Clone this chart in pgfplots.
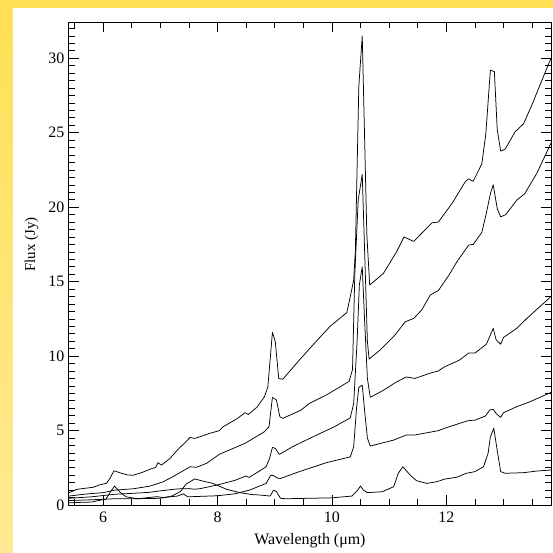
\documentclass[border=0pt]{standalone}
\usepackage{pgfplots}
\pgfplotsset{compat=1.18}
\usepackage{fontspec}
\setmainfont{Liberation Serif}
\definecolor{ytop}{HTML}{FFE055}
\definecolor{ybot}{HTML}{FFEA94}
\tikzset{sp/.style={black, mark=none, line width=0.75pt, line join=round}}
\begin{document}
\begin{tikzpicture}[x=1bp,y=1bp]
\fill[white] (0,0) rectangle (553,553);
\fill[ytop] (0,545) rectangle (553,553);
\shade[top color=ytop, bottom color=ybot] (0,0) rectangle (12.5,545);
\useasboundingbox (0,0) rectangle (553,553);
\begin{axis}[
  at={(68.8bp,48bp)}, anchor=south west,
  scale only axis, width=482.2bp, height=482.5bp,
  xmin=5.4, xmax=13.83, ymin=0, ymax=32.4,
  xtick={6,8,10,12}, minor xtick={5.5,6.5,7,7.5,8.5,9,9.5,10.5,11,11.5,12.5,13,13.5},
  ytick={0,5,...,30}, minor ytick={0.5,1,...,32},
  tick align=inside, tick pos=both,
  major tick length=10bp, minor tick length=6bp,
  every tick/.style={black, line width=0.6pt},
  axis line style={line width=0.8pt},
  /pgf/number format/assume math mode=true,
  tick label style={font=\fontsize{16}{18}\selectfont},
  xticklabel style={yshift=-3bp},
  yticklabel style={xshift=-1bp},
  xlabel={Wavelength (μm)},
  ylabel={Flux (Jy)},
  xlabel style={font=\fontsize{16}{18}\selectfont, at={(axis description cs:0.5,-0.073)}, anchor=center},
  ylabel style={font=\fontsize{15}{18}\selectfont, at={(axis description cs:-0.077,0.54)}, anchor=center},
  clip=true,
]
% A
\addplot[sp] coordinates {(5.4,0.82)(5.54,1.05)(5.68,1.12)(5.83,1.19)(5.93,1.34)(6.06,1.46)(6.12,1.79)(6.19,2.3)(6.29,2.17)(6.41,2.03)(6.52,1.99)(6.67,2.17)(6.82,2.4)(6.92,2.53)(6.96,2.84)(7.02,2.68)(7.17,3.13)(7.31,3.74)(7.43,4.18)(7.52,4.54)(7.6,4.47)(7.69,4.58)(7.86,4.81)(8.03,4.99)(8.1,5.26)(8.34,5.79)(8.48,6.2)(8.54,6.08)(8.69,6.57)(8.82,7.27)(8.88,7.94)(8.96,11.6)(9.01,10.96)(9.07,8.5)(9.14,8.44)(9.43,9.73)(9.68,10.8)(9.96,11.97)(10.26,12.92)(10.32,13.98)(10.38,15.1)(10.41,17.1)(10.47,28.1)(10.53,31.5)(10.61,18.2)(10.66,14.77)(10.9,15.55)(11.13,17.0)(11.26,18.0)(11.43,17.7)(11.75,18.95)(11.86,19.0)(12.1,20.25)(12.33,21.7)(12.39,21.9)(12.47,21.74)(12.62,22.9)(12.69,24.9)(12.77,29.2)(12.84,29.1)(12.89,25.2)(12.95,23.76)(13.03,23.9)(13.2,25.05)(13.35,25.6)(13.5,26.9)(13.69,28.7)(13.83,30.0)};
% B
\addplot[sp] coordinates {(5.4,0.6)(5.71,0.74)(6.0,0.83)(6.21,1.0)(6.53,1.09)(6.82,1.27)(7.05,1.56)(7.22,1.9)(7.4,2.3)(7.52,2.57)(7.63,2.53)(7.81,2.8)(8.03,3.4)(8.48,4.14)(8.82,4.92)(8.9,5.26)(8.96,7.23)(9.03,7.05)(9.09,5.93)(9.14,5.82)(9.45,6.35)(9.61,6.83)(9.91,7.4)(10.3,8.3)(10.36,9.1)(10.4,15.5)(10.46,20.5)(10.53,22.2)(10.58,16)(10.62,11)(10.65,9.8)(10.84,10.4)(11.1,11.4)(11.28,12.3)(11.43,12.53)(11.57,13.1)(11.72,14.1)(11.86,14.4)(12.04,15.4)(12.18,16.3)(12.39,17.45)(12.47,17.5)(12.62,18.3)(12.7,19.6)(12.77,20.9)(12.82,21.5)(12.89,19.9)(12.95,19.35)(13.04,19.5)(13.23,20.47)(13.37,20.9)(13.58,22.26)(13.72,23.4)(13.83,24.3)};
% C
\addplot[sp] coordinates {(5.4,0.45)(5.8,0.55)(6.2,0.72)(6.5,0.78)(6.8,0.85)(7.0,0.95)(7.3,1.08)(7.5,1.1)(7.6,1.06)(7.7,1.1)(8.0,1.35)(8.3,1.65)(8.5,1.95)(8.55,1.85)(8.7,2.2)(8.85,2.57)(8.91,3.13)(8.96,3.87)(9.01,3.8)(9.08,3.4)(9.33,3.95)(9.68,4.6)(10.03,5.23)(10.32,5.85)(10.38,6.8)(10.44,11)(10.48,14.8)(10.53,16.0)(10.57,12.5)(10.62,8.5)(10.67,7.23)(10.9,7.7)(11.1,8.2)(11.3,8.6)(11.45,8.5)(11.74,8.88)(11.86,9.0)(11.97,9.28)(12.23,9.73)(12.39,10.2)(12.5,10.2)(12.7,10.8)(12.82,11.86)(12.87,11.1)(12.95,10.8)(13.0,11.25)(13.23,11.86)(13.4,12.5)(13.6,13.2)(13.83,14.0)};
% D
\addplot[sp] coordinates {(5.4,0.3)(5.8,0.35)(6.2,0.42)(6.6,0.42)(6.94,0.56)(7.05,0.5)(7.3,0.6)(7.4,0.75)(7.48,0.55)(8.0,0.62)(8.3,0.75)(8.56,1.0)(8.85,1.45)(8.93,2.0)(8.98,1.97)(9.05,1.8)(9.1,1.78)(9.43,2.24)(9.91,2.85)(10.32,3.23)(10.38,3.9)(10.43,6.5)(10.47,7.9)(10.53,8.05)(10.58,6.0)(10.62,4.5)(10.67,3.96)(11.08,4.36)(11.3,4.7)(11.45,4.7)(11.86,4.99)(11.97,5.15)(12.23,5.48)(12.38,5.66)(12.5,5.7)(12.68,5.97)(12.76,6.38)(12.82,6.42)(12.88,6.1)(12.95,5.89)(13.0,6.2)(13.23,6.6)(13.46,6.93)(13.66,7.27)(13.83,7.56)};
% E
\addplot[sp] coordinates {(5.4,0.15)(5.8,0.2)(6.05,0.4)(6.13,0.9)(6.2,1.27)(6.3,0.85)(6.4,0.55)(6.6,0.42)(7.0,0.45)(7.2,0.6)(7.35,0.9)(7.45,1.4)(7.6,1.75)(7.75,1.6)(7.92,1.45)(8.16,1.05)(8.39,0.83)(8.6,0.7)(8.74,0.67)(8.92,0.6)(8.98,1.0)(9.03,0.9)(9.1,0.45)(9.2,0.42)(9.6,0.45)(10.0,0.48)(10.35,0.6)(10.45,1.0)(10.5,1.27)(10.55,1.0)(10.62,0.83)(10.88,0.89)(11.08,1.23)(11.16,2.13)(11.24,2.57)(11.37,2.0)(11.48,1.63)(11.66,1.45)(11.84,1.57)(11.97,1.74)(12.18,1.86)(12.35,2.13)(12.5,2.24)(12.65,2.57)(12.73,3.47)(12.77,4.58)(12.83,5.15)(12.88,3.9)(12.95,2.24)(13.03,2.13)(13.35,2.17)(13.58,2.28)(13.83,2.35)};
\end{axis}
\end{tikzpicture}
\end{document}
